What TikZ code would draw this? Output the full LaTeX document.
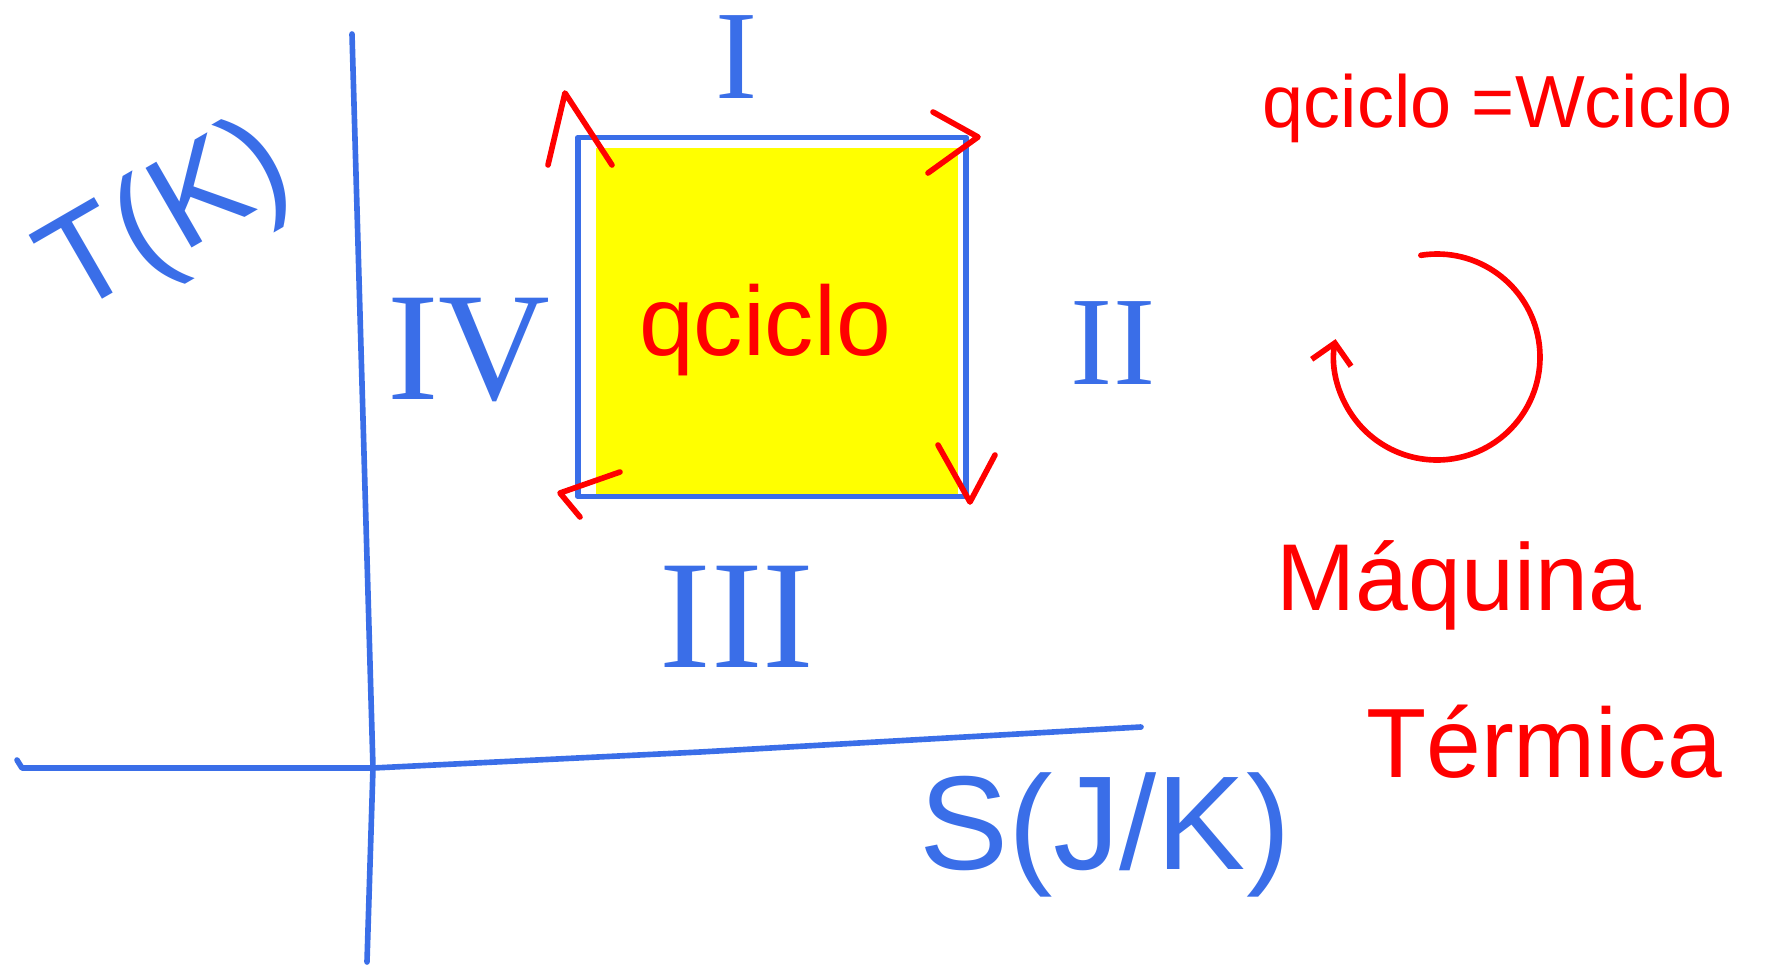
\documentclass[tikz,border=0pt]{standalone}
\usepackage{fontspec}
\setmainfont{Liberation Sans}
\newfontfamily\romanfont{Liberation Serif}
\usetikzlibrary{arrows.meta}
\definecolor{penblue}{RGB}{58,110,232}
\definecolor{penred}{RGB}{255,0,0}
\definecolor{hilite}{RGB}{255,255,0}
\begin{document}
\begin{tikzpicture}[x=0.01cm,y=-0.01cm,
  pen/.style={line width=1.6pt,line cap=round,line join=round},
  axis/.style={pen,draw=penblue},
  chevron/.style={pen,draw=penred},
  redarrow/.style={pen,draw=penred,-{Straight Barb[length=2mm,width=4mm]}},
  bluetext/.style={text=penblue,inner sep=0pt},
  redtext/.style={text=penred,inner sep=0pt},
  numeral/.style={text=penblue,inner sep=0pt,font=\romanfont\fontsize{#1}{#1}\selectfont}]
\useasboundingbox (0,0) rectangle (1771,966);
% axes
\coordinate (ytop) at (352,34);
\coordinate (orig) at (373,768);
\coordinate (ybot) at (367,962);
\coordinate (xl) at (17,760);
\coordinate (xm) at (700,752);
\coordinate (xr) at (1141,727);
\draw[axis] (ytop) -- (orig) -- (ybot);
\draw[axis] (xl) -- (22,768) -- (orig) -- (xm) -- (xr);
% cycle box
\fill[hilite] (596,148) rectangle (958,494);
\node (box) [draw=penblue, pen, minimum width=3.88cm, minimum height=3.59cm, inner sep=0pt] at (772,317) {};
\node (qin) [redtext, font=\fontsize{28}{28}\selectfont] at (765,330) {qciclo};
% corner chevrons
\draw[chevron] (548,165) -- (565,93) -- (612,165);
\draw[chevron] (928,173) -- (978,137) -- (933,112);
\draw[chevron] (938,445) -- (970,502) -- (995,455);
\draw[chevron] (620,472) -- (560,493) -- (580,517);
% roman numerals
\node (n1) [numeral=36pt] at (737,57) {I};
\node (n2) [numeral=36pt] at (1113,343) {II};
\node (n3) [numeral=44pt] at (737,617) {III};
\node (n4) [numeral=44pt] at (469,350) {IV};
% axis labels
\node (tk) [bluetext, rotate=30, font=\fontsize{38}{38}\selectfont] at (168,222) {T(K)};
\node (sjk) [bluetext, font=\fontsize{38}{38}\selectfont] at (1105,835) {S(J/K)};
% right side
\node (eq) [redtext, anchor=west, font=\fontsize{21}{21}\selectfont] at (1262,108) {qciclo =Wciclo};
\coordinate (cc) at (1437,357);
\draw[redarrow] (cc) ++(-99:103) arc[start angle=-99, end angle=190, radius=103];
\node (maq) [redtext, font=\fontsize{27}{27}\selectfont] at (1459,585) {Máquina};
\node (ter) [redtext, font=\fontsize{28}{28}\selectfont] at (1544,742) {Térmica};
\end{tikzpicture}
\end{document}
